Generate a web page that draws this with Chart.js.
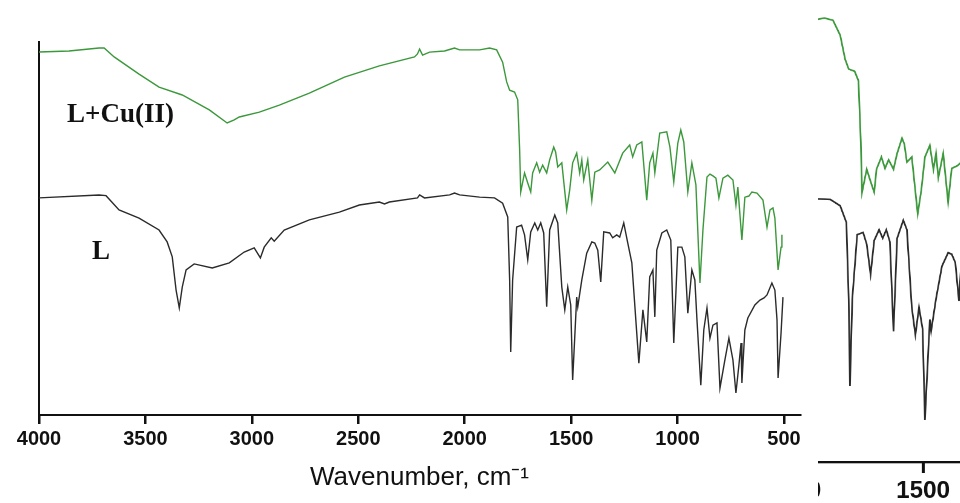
<!DOCTYPE html>
<html><head><meta charset="utf-8">
<script src="https://cdn.jsdelivr.net/npm/chart.js@4.4.1/dist/chart.umd.min.js"></script>
<style>
html,body{margin:0;padding:0;background:#fff;width:960px;height:503px;overflow:hidden}
#wrap{position:relative;width:960px;height:503px;background:#fff}
#c1{position:absolute;left:0;top:0}
#clip{position:absolute;left:818px;top:0;width:142px;height:503px;overflow:hidden;background:#fff}
#zoomed{position:absolute;left:-586.3px;top:-39.6px;width:960px;height:503px;transform:scale(1.21);transform-origin:0 0}
</style></head><body>
<div id="wrap">
<canvas id="c1" width="960" height="503"></canvas>
<div id="clip"><div id="zoomed"><canvas id="c2" width="960" height="503"></canvas></div></div>
</div>
<script>
// Series names
const seriesNames = ['L', 'L+Cu(II)'];
// X tick labels (wavenumber, cm-1)
const tickValues = [4000, 3500, 3000, 2500, 2000, 1500, 1000, 500];
const axisTitle = 'Wavenumber, cm\u207B\u00B9';

// Ligand L: wavenumber (cm-1) and transmittance (arbitrary %, offset)
const wnL = [4000,3718,3685,3624,3530,3436,3398,3374,3356,3341,3327,3309,3271,3186,3106,3036,2989,2960,2942,2909,2895,2848,2730,2589,2495,2401,2377,2354,2222,2212,2189,2071,2048,2024,1930,1860,1822,1798,1789,1784,1775,1756,1733,1719,1704,1690,1671,1657,1643,1629,1615,1601,1577,1563,1544,1530,1516,1502,1493,1474,1469,1450,1427,1403,1389,1375,1361,1347,1319,1305,1286,1272,1253,1234,1215,1182,1163,1145,1131,1116,1107,1098,1074,1051,1032,1018,999,980,966,952,933,919,909,891,877,862,848,834,815,801,778,759,740,726,712,702,698,684,670,637,613,594,580,557,543,533,528,514,505];
const tL = [58.2,59.0,58.8,55.0,52.8,49.6,46.4,42.4,33.5,28.7,34.3,38.9,40.5,39.4,40.8,43.7,44.8,42.1,45.0,47.5,46.6,49.6,52.3,54.4,56.3,57.1,56.6,57.1,58.2,59.0,58.2,59.0,59.5,59.0,58.4,58.2,56.8,53.1,36.2,16.9,36.2,50.4,50.9,48.3,41.6,49.1,51.5,49.6,51.5,48.8,29.0,49.6,53.6,51.5,34.3,28.2,34.3,29.5,9.4,31.6,29.0,36.2,43.4,46.4,46.1,44.2,35.7,49.1,48.8,47.5,48.3,47.7,51.5,46.1,40.8,13.9,28.2,19.6,37.0,38.9,26.3,44.2,48.8,49.6,46.9,19.3,45.0,45.0,42.4,27.3,38.9,36.2,25.5,8.0,22.8,28.7,20.6,24.1,24.7,7.2,14.7,20.6,14.7,5.9,13.4,19.3,8.6,22.8,26.0,29.5,30.8,31.4,32.2,35.4,33.5,25.5,9.9,22.0,31.6];

// Complex L+Cu(II)
const wnCu = [4000,3859,3718,3694,3647,3530,3436,3327,3200,3116,3083,3059,2965,2871,2730,2565,2401,2236,2222,2212,2198,2165,2095,2048,2024,1930,1883,1850,1822,1803,1789,1766,1751,1742,1737,1719,1704,1690,1681,1662,1648,1634,1615,1601,1582,1573,1563,1544,1521,1507,1493,1474,1460,1450,1441,1422,1403,1389,1366,1328,1295,1258,1225,1211,1192,1168,1145,1131,1116,1107,1084,1051,1036,1018,999,985,971,952,933,914,895,881,862,848,834,820,806,787,764,740,726,717,698,684,665,651,627,599,580,566,552,543,528,514,510];
const tCu = [97.3,97.6,98.4,98.4,96.0,91.4,87.9,85.8,81.8,78.3,79.1,79.9,81.2,83.1,86.3,90.6,93.6,96.0,96.8,98.1,96.5,97.3,97.6,98.4,97.9,97.9,98.4,97.9,94.6,89.3,87.1,86.6,84.5,71.0,59.8,64.9,62.2,59.8,64.9,67.6,65.1,67.0,64.9,68.4,71.8,70.5,66.5,67.6,55.0,60.3,67.6,70.2,64.9,68.4,63.0,68.4,57.6,65.1,65.7,67.8,64.9,70.2,72.4,69.2,72.4,73.2,57.6,67.6,70.2,64.9,75.6,75.9,71.8,62.5,72.9,76.4,73.2,59.8,67.6,61.7,35.4,49.6,63.8,64.6,64.1,63.5,58.2,63.5,64.3,63.0,56.3,61.1,46.9,58.4,58.7,59.8,59.5,57.6,50.4,55.0,55.5,52.8,38.9,45.0,48.3];

const toPts = (xs, ys) => xs.map((x, i) => ({x: x, y: ys[i]}));

const labelPlugin = {
  id: 'seriesLabels',
  afterDraw(chart) {
    const ctx = chart.ctx, a = chart.chartArea;
    ctx.save();
    ctx.fillStyle = '#111';
    ctx.textBaseline = 'alphabetic';
    ctx.font = 'bold 27px "Liberation Serif", "Times New Roman", serif';
    ctx.fillText(seriesNames[1], a.left + 28, a.top + 80);
    ctx.fillText(seriesNames[0], a.left + 53, a.top + 217);
    ctx.restore();
  }
};

function makeConfig(dpr) {
  return {
    type: 'line',
    data: {
      datasets: [
        {label: seriesNames[1], data: toPts(wnCu, tCu), borderColor: '#3b983b', borderWidth: 1.4},
        {label: seriesNames[0], data: toPts(wnL, tL), borderColor: '#2b2b2b', borderWidth: 1.4}
      ]
    },
    options: {
      responsive: false,
      animation: false,
      devicePixelRatio: dpr,
      parsing: true,
      layout: {padding: {left: 39, right: 160, top: 42, bottom: 0}},
      plugins: {legend: {display: false}, tooltip: {enabled: false}},
      elements: {point: {radius: 0}, line: {tension: 0, fill: false}},
      scales: {
        x: {
          type: 'linear', reverse: true, min: 425, max: 4000,
          afterBuildTicks: s => { s.ticks = tickValues.map(v => ({value: v})); },
          afterFit: s => { s.height = 88; },
          grid: {display: true, drawOnChartArea: false, drawTicks: true, tickLength: 9, color: '#111', lineWidth: 2.5},
          border: {display: true, color: '#111', width: 2},
          ticks: {color: '#111', padding: 3, maxRotation: 0, autoSkip: false,
                  font: {family: '"Liberation Sans", Arial, sans-serif', size: 20, weight: 'bold'},
                  callback: v => String(v)},
          title: {display: true, text: axisTitle, color: '#111',
                  font: {family: '"Liberation Sans", Arial, sans-serif', size: 26},
                  padding: {top: 0, bottom: 10}}
        },
        y: {
          min: 0, max: 100,
          afterFit: s => { s.width = 0; },
          ticks: {display: false},
          grid: {display: false},
          border: {display: true, color: '#111', width: 2}
        }
      }
    },
    plugins: [labelPlugin]
  };
}

new Chart(document.getElementById('c1'), makeConfig(1));
new Chart(document.getElementById('c2'), makeConfig(2));
</script>
</body></html>
